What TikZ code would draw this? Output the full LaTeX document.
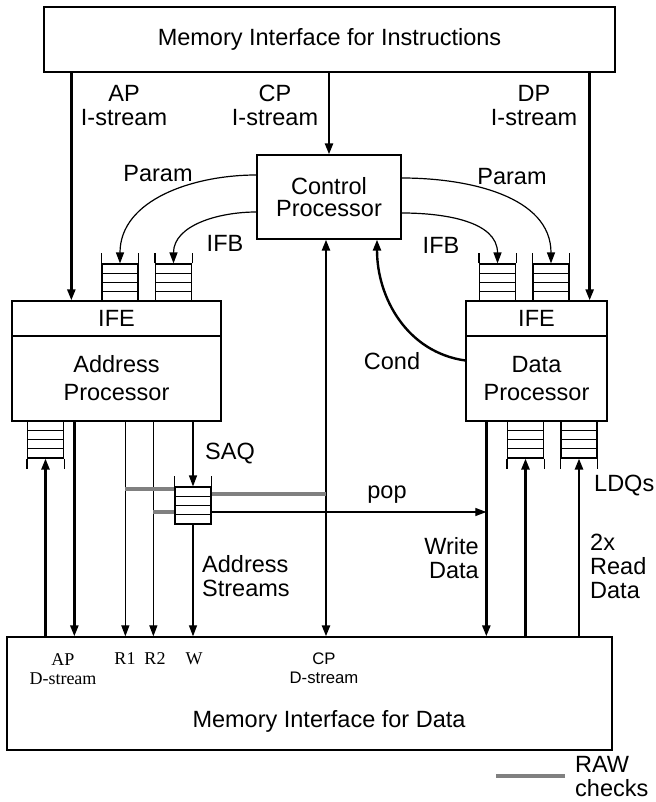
\documentclass[tikz,border=0pt]{standalone}
\usepackage{fontspec}
\setmainfont{Liberation Sans}
\newfontfamily\timesface{Liberation Serif}
\usepackage{tikz}
\usetikzlibrary{arrows.meta, positioning, calc}
\definecolor{rawGray}{RGB}{128,128,128}
\newcommand{\bigtxt}{\rmfamily\fontsize{23.5}{24}\selectfont}
\newcommand{\smalltxt}{\rmfamily\fontsize{16.7}{19}\selectfont}
\newcommand{\serftxt}{\timesface\fontsize{18}{19}\selectfont}
\tikzset{
  unit/.style={
    rectangle, draw=black, line width=1.3pt,
    inner sep=0pt, align=center, font=\bigtxt
  },
  queue/.style={
    rectangle, draw=black, line width=1.1pt,
    minimum width=36pt, minimum height=37pt, inner sep=0pt,
    path picture={
      \foreach \k in {1,2,3}
        \draw[line width=1.1pt] ($(path picture bounding box.north west)!\k/4!(path picture bounding box.south west)$)
          -- ($(path picture bounding box.north east)!\k/4!(path picture bounding box.south east)$);
    }
  },
  tag/.style={align=center, font=\bigtxt, inner sep=0pt},
  thinarrow/.style={-{Triangle[length=11pt,width=8pt]}, black, line width=1.2pt},
  thickarrow/.style={-{Triangle[length=11pt,width=8pt]}, black, line width=2.4pt},
  rawcheck/.style={rawGray, line width=4.2pt}
}

\begin{document}
\begin{tikzpicture}[x=1pt,y=1pt]
\useasboundingbox (0,0) rectangle (655,-802);
% memories and processors
\node[unit,minimum width=571pt,minimum height=65pt] (imem) at (329.5,-39.5) {Memory Interface for Instructions};
\node[unit,minimum width=144pt,minimum height=84pt] (ctrl) at (329,-197) {Control\\[-2pt]Processor};
\node[unit,minimum width=209pt,minimum height=35pt] (apife) at (116.5,-318.5) {IFE};
\node[unit,minimum width=209pt,minimum height=85pt] (approc) at (116.5,-378.5) {Address\\[4pt]Processor};
\node[unit,minimum width=141pt,minimum height=35pt] (dpife) at (536.5,-318.5) {IFE};
\node[unit,minimum width=141pt,minimum height=85pt] (dpproc) at (536.5,-378.5) {Data\\[4pt]Processor};
\node[unit,minimum width=605pt,minimum height=113pt] (dmem) at (309.5,-693.5) {};
% queues
\node[queue] (qparam) at (120,-282.5) {};
\node[queue] (qifb) at (173.5,-282.5) {};
\node[queue] (dqifb) at (497.5,-282.5) {};
\node[queue] (dqparam) at (551,-282.5) {};
\node[queue] (saq) at (193,-505.5) {};
\node[queue] (qapd) at (45.5,-439.5) {};
\node[queue] (ldqa) at (525.5,-439.5) {};
\node[queue] (ldqb) at (579,-439.5) {};
\foreach \q in {qparam,qifb,dqifb,dqparam,saq}
  \draw[line width=1.1pt] (\q.north west) -- ++(0,10) (\q.north east) -- ++(0,10);
\foreach \q in {qapd,ldqa,ldqb}
  \draw[line width=1.1pt] (\q.south west) -- ++(0,-10) (\q.south east) -- ++(0,-10);
% instruction streams
\draw[thickarrow] ([xshift=28pt]imem.south west) -- ([xshift=28pt]imem.south west |- apife.north);
\draw[thickarrow] (imem.south -| ctrl.north) -- (ctrl.north);
\draw[thickarrow] ([xshift=-18pt]dpife.north east |- imem.south) -- ([xshift=-18pt]dpife.north east);
\node[tag] (apis) at (124,-105.5) {AP\\I-stream};
\node[tag] (cpis) at (275,-105.5) {CP\\I-stream};
\node[tag] (dpis) at (534,-105.5) {DP\\I-stream};
% control processor outputs
\draw[thinarrow] ([yshift=22pt]ctrl.west) to[out=180,in=90] (qparam.north);
\draw[thinarrow] ([yshift=-15pt]ctrl.west) to[out=180,in=90] (qifb.north);
\draw[thinarrow] ([yshift=-16pt]ctrl.east) to[out=0,in=90] (dqifb.north);
\draw[thinarrow] ([yshift=19pt]ctrl.east) to[out=0,in=90] (dqparam.north);
\draw[thickarrow] ([yshift=18pt]dpproc.west) to[out=172,in=-90] ([xshift=48pt]ctrl.south);
\node[tag] (paraml) at (158,-174) {Param};
\node[tag] (ifbl) at (225,-243) {IFB};
\node[tag] (ifbr) at (441,-245) {IFB};
\node[tag] (paramr) at (512,-177) {Param};
\node[tag] (cond) at (392,-361) {Cond};
% data streams
\draw[thickarrow] (dmem.north -| qapd.south) -- (qapd.south);
\draw[thickarrow] ([xshift=63pt]approc.south west) -- ([xshift=63pt]approc.south west |- dmem.north);
\coordinate (rone) at ([xshift=114pt]approc.south west);
\coordinate (rtwo) at ([xshift=142pt]approc.south west);
\coordinate (wdat) at ([xshift=21pt]dpproc.south west);
\draw[thinarrow] (rone) -- (rone |- dmem.north);
\draw[thinarrow] (rtwo) -- (rtwo |- dmem.north);
\draw[thinarrow] (approc.south -| saq.north) -- (saq.north);
\draw[thinarrow] (saq.south) -- (saq.south |- dmem.north);
\draw[thickarrow,{Triangle[length=11pt,width=8pt]}-{Triangle[length=11pt,width=8pt]}] ([xshift=-3pt]ctrl.south) -- ([xshift=-3pt]ctrl.south |- dmem.north);
\draw[thickarrow] (wdat) -- (wdat |- dmem.north);
\draw[thickarrow] (dmem.north -| ldqa.south) -- (ldqa.south);
\draw[thickarrow] (dmem.north -| ldqb.south) -- (ldqb.south);
% RAW checks
\draw[rawcheck] ([yshift=16.5pt]saq.west) -- ([yshift=16.5pt]saq.west -| rone);
\draw[rawcheck] ([yshift=-6.5pt]saq.west) -- ([yshift=-6.5pt]saq.west -| rtwo);
\draw[rawcheck] ([yshift=11.5pt]saq.east) -- ([xshift=-3pt,yshift=11.5pt]saq.east -| ctrl.south);
\draw[thinarrow] ([yshift=-6.5pt]saq.east) -- ([yshift=-6.5pt]saq.east -| wdat);
\node[tag] (poplbl) at (387,-495) {pop};
\node[tag] (saqlbl) at (230,-454) {SAQ};
\node[tag,anchor=west,align=left] (addrs) at (202,-576) {Address\\Streams};
\node[tag,anchor=east,align=right] (wdlbl) at (479,-558) {Write\\Data};
\node[tag,anchor=west,align=left] (rdlbl) at (590,-566) {2x\\Read\\Data};
\node[tag,anchor=west] (ldqlbl) at (594,-486) {LDQs};
% memory ports
\node[tag,font=\serftxt] (apds) at (63,-669) {AP\\D-stream};
\node[tag,font=\serftxt] (ronelbl) at (125,-659) {R1};
\node[tag,font=\serftxt] (rtwolbl) at (155,-659) {R2};
\node[tag,font=\serftxt] (wlbl) at (194,-659) {W};
\node[tag,font=\smalltxt] (cpds) at (324,-668) {CP\\D-stream};
\node[tag] (dmemlbl) at (329,-721) {Memory Interface for Data};
% legend
\node[tag,anchor=west,align=left] (rawkey) at (575,-777) {RAW\\checks};
\draw[rawcheck] ([xshift=-10pt,yshift=1pt]rawkey.west) -- ++(-69,0);
\end{tikzpicture}
\end{document}
